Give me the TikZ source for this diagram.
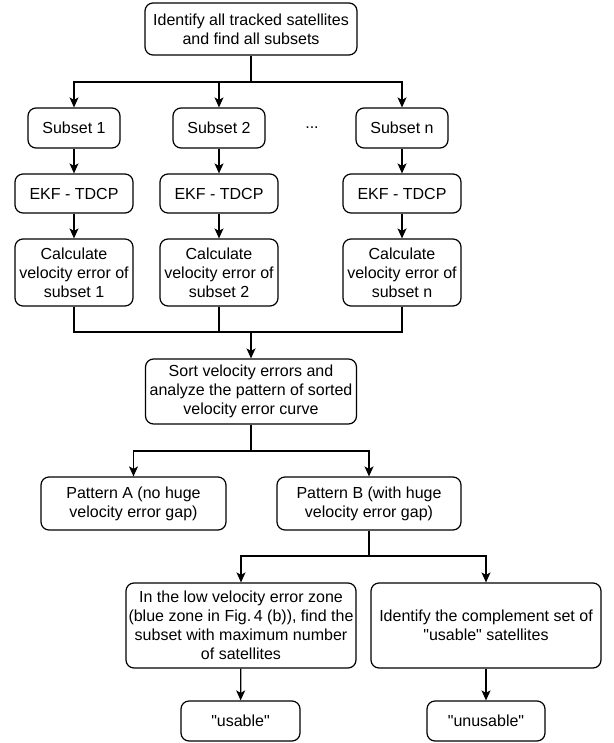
\documentclass[tikz,border=0pt]{standalone}
\usepackage{fontspec}
\setmainfont{Liberation Sans}[Ligatures=TeXOff]
\usetikzlibrary{arrows.meta}
\tikzset{
	proc node/.style={draw,rounded corners=8pt,line width=1.2pt,align=center,
		font=\fontsize{16}{19}\selectfont,inner sep=1pt},
	dots node/.style={font=\fontsize{16}{19}\selectfont,inner sep=0pt}
}

\begin{document}
\begin{tikzpicture}[x=1pt,y=-1pt,line width=1.2pt,
            >={Stealth[length=10pt,width=9pt,inset=2.5pt]}]
            \useasboundingbox (0,0) rectangle (613,743);
            % first row
            \node [proc node,minimum width=212pt,minimum height=52pt] (find) at (251,29)
              {Identify all tracked satellites\\and find all subsets};
            \node [proc node,minimum width=92pt,minimum height=40pt] (sub1) at (74,128) {Subset 1};
            \node [proc node,minimum width=92pt,minimum height=40pt] (sub2) at (219,128) {Subset 2};
            \node [dots node] (dots) at (312,128) {...};
            \node [proc node,minimum width=92pt,minimum height=40pt] (subn) at (402,128) {Subset n};
            \node [proc node,minimum width=118pt,minimum height=39pt] (ekf1) at (74,193.5) {EKF - TDCP};
            \node [proc node,minimum width=118pt,minimum height=39pt] (ekf2) at (219,193.5) {EKF - TDCP};
            \node [proc node,minimum width=118pt,minimum height=39pt] (ekfn) at (402,193.5) {EKF - TDCP};
            \node [proc node,minimum width=118pt,minimum height=67pt] (calc1) at (74,272.5)
              {Calculate\\velocity error of\\subset 1};
            \node [proc node,minimum width=118pt,minimum height=67pt] (calc2) at (219,272.5)
              {Calculate\\velocity error of\\subset 2};
            \node [proc node,minimum width=118pt,minimum height=67pt] (calcn) at (402,272.5)
              {Calculate\\velocity error of\\subset n};
            % sorting and patterns
            \node [proc node,minimum width=211pt,minimum height=65pt] (sort) at (251,391.5)
              {Sort velocity errors and\\analyze the pattern of sorted\\velocity error curve};
            \node [proc node,minimum width=185pt,minimum height=53pt] (patA) at (133.5,503.5)
              {Pattern A (no huge\\velocity error gap)};
            \node [proc node,minimum width=184pt,minimum height=53pt] (patB) at (369,503.5)
              {Pattern B (with huge\\velocity error gap)};
            \node [proc node,minimum width=230pt,minimum height=85pt] (low) at (241,625.5)
              {In the low velocity error zone\\(blue zone in Fig.\,4 (b)), find the\\subset with maximum number\\of satellites};
            \node [proc node,minimum width=230pt,minimum height=85pt] (compl) at (486,625.5)
              {Identify the complement set of\\"usable" satellites};
            \node [proc node,minimum width=119pt,minimum height=40pt] (usable) at (240.5,721) {"usable"};
            \node [proc node,minimum width=118pt,minimum height=40pt] (unusable) at (486,721) {"unusable"};
            % split and merge points
            \coordinate (split1) at (251,82);
            \coordinate (merge) at (251,332);
            \coordinate (split2) at (251,451);
            \coordinate (split3) at (369,556);
            % connectors
            \draw (find) -- (split1);
            \draw [->] (split1) -| (sub1);
            \draw [->] (split1) -| (sub2);
            \draw [->] (split1) -| (subn);
            \draw [->] (sub1) -- (ekf1);
            \draw [->] (sub2) -- (ekf2);
            \draw [->] (subn) -- (ekfn);
            \draw [->] (ekf1) -- (calc1);
            \draw [->] (ekf2) -- (calc2);
            \draw [->] (ekfn) -- (calcn);
            \draw (calc1) |- (merge);
            \draw (calc2) |- (merge);
            \draw (calcn) |- (merge);
            \draw [->] (merge) -- (sort);
            \draw (sort) -- (split2);
            \draw [->] (split2) -| (patA);
            \draw [->] (split2) -| (patB);
            \draw (patB) -- (split3);
            \draw [->] (split3) -| (low);
            \draw [->] (split3) -| (compl);
            \draw [->] (low) -- (usable);
            \draw [->] (compl) -- (unusable);
\end{tikzpicture}
\end{document}
